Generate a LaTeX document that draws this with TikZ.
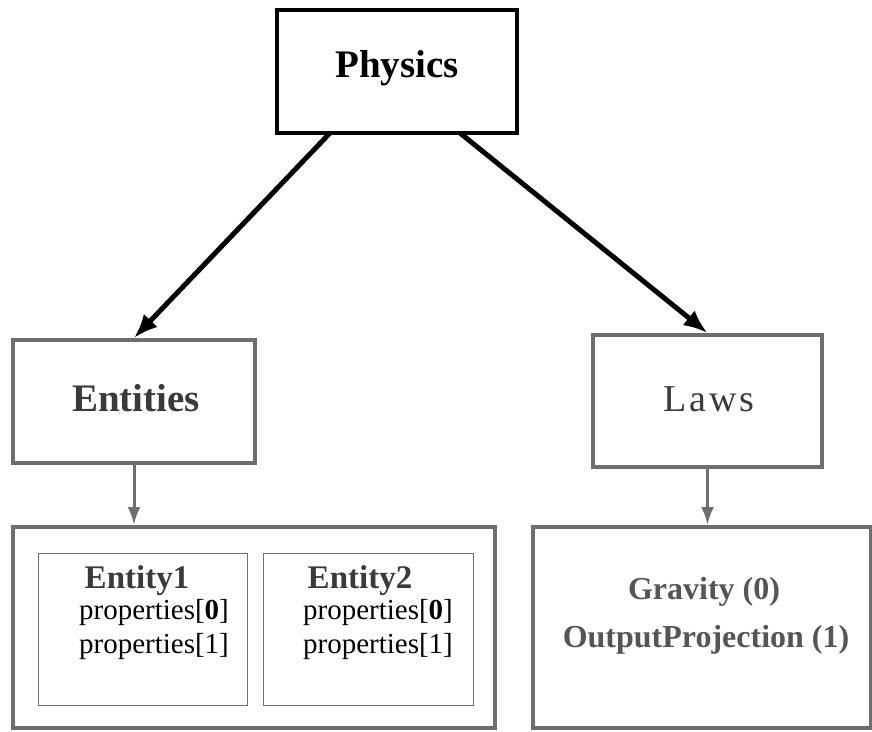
\documentclass[tikz,border=0pt]{standalone}
\usepackage{fontspec}
\setmainfont{Liberation Serif}
\usetikzlibrary{arrows.meta}
\definecolor{boxgray}{HTML}{6E6E6E}
\definecolor{txtgray}{HTML}{3A3A3A}
\definecolor{lawgray}{HTML}{555555}
\begin{document}
\begin{tikzpicture}[x=1pt,y=-1pt,
  topbox/.style={draw=black,line width=3.5pt,inner sep=0pt},
  midbox/.style={draw=boxgray,line width=4pt,inner sep=0pt},
  holder/.style={draw=boxgray,line width=4pt,inner sep=0pt},
  innerbox/.style={draw=boxgray,line width=1pt,inner sep=0pt},
  bigarrow/.style={draw=black,line width=5pt,-{Latex[length=24pt,width=19pt]}},
  smallarrow/.style={draw=boxgray,line width=3pt,-{Latex[length=18pt,width=13pt]}},
  lbl/.style={font=\fontsize{39}{42}\selectfont\bfseries},
  ent/.style={font=\fontsize{33}{36}\selectfont\bfseries,text=txtgray},
  prop/.style={font=\fontsize{29}{32}\selectfont},
  law/.style={font=\fontsize{32}{35}\selectfont\bfseries,text=lawgray}]
\useasboundingbox (0,0) rectangle (872,731);
% boxes
\node[topbox,minimum width=240pt,minimum height=123pt] (phys) at (397,71.5) {};
\node[lbl] at (397,68) {Physics};
\node[midbox,minimum width=242pt,minimum height=123pt] (ents) at (134,401.5) {};
\node[lbl,text=txtgray] at (136,398) {Entities};
\node[midbox,minimum width=229pt,minimum height=132pt] (laws) at (707.5,401) {};
\node[font=\fontsize{38}{41}\selectfont\addfontfeatures{LetterSpace=8},text=txtgray] at (709,399) {Laws};
% containers
\node[holder,minimum width=482pt,minimum height=201pt] (econt) at (254,627.5) {};
\node[holder,minimum width=338pt,minimum height=201pt] (lcont) at (702,627.5) {};
\node[innerbox,minimum width=209pt,minimum height=152pt] (e1) at (142.5,629) {};
\node[innerbox,minimum width=210pt,minimum height=152pt] (e2) at (368,629) {};
% entity texts
\node[ent] at (137,581) {Entity1};
\node[prop] at (154,613) {properties[\textbf{0}]};
\node[prop] at (154,647) {properties[1]};
\node[ent] at (360,581) {Entity2};
\node[prop] at (378,613) {properties[\textbf{0}]};
\node[prop] at (378,647) {properties[1]};
\node[law] at (704,592) {Gravity (0)};
\node[law] at (706,640) {OutputProjection (1)};
% arrows
\coordinate (p1) at (330,133);
\coordinate (p2) at (460,133);
\draw[bigarrow] (p1) -- (ents.north);
\draw[bigarrow] (p2) -- (laws.north);
\draw[smallarrow] (ents.south) -- (ents.south |- econt.north);
\draw[smallarrow] (laws.south) -- (laws.south |- lcont.north);
\end{tikzpicture}
\end{document}
